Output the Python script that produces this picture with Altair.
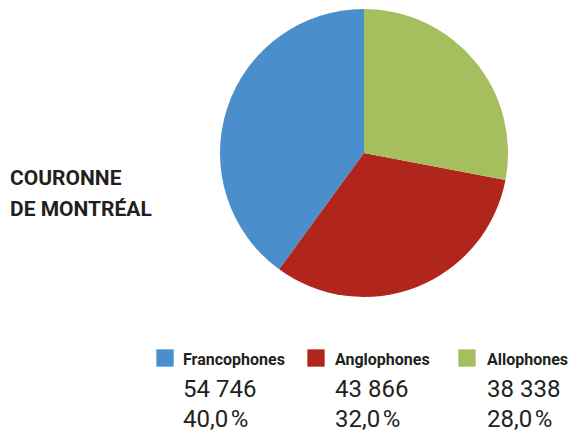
import altair as alt
import pandas as pd

categories = ["Francophones", "Anglophones", "Allophones"]
counts = [54746, 43866, 38338]
count_labels = ["54 746", "43 866", "38 338"]
pct_labels = ["40,0\u200a%", "32,0\u200a%", "28,0\u200a%"]
pie_order = ["Allophones", "Anglophones", "Francophones"]
colors = ["#4A8ECB", "#B0251C", "#A5BF5E"]
title_lines = ["COURONNE", "DE MONTRÉAL"]

df = pd.DataFrame({
    "cat": categories,
    "count": counts,
    "count_label": count_labels,
    "pct_label": pct_labels,
})
df["ord"] = [pie_order.index(c) for c in categories]
df["col"] = list(range(len(categories)))

title_df = pd.DataFrame({"line": title_lines, "row": list(range(len(title_lines)))})

FONT = "Roboto"
TXT = "#231F20"
color_scale = alt.Scale(domain=categories, range=colors)

base = alt.Chart(df)

pie = base.mark_arc(stroke=None, outerRadius=144).encode(
    theta=alt.Theta("count:Q", stack=True),
    color=alt.Color("cat:N", scale=color_scale, legend=None),
    order=alt.Order("ord:Q"),
    x=alt.value(356),
    y=alt.value(145),
)

sq_x = alt.X("col:Q", scale=alt.Scale(domain=[0, 2], range=[157, 459]), axis=None)
txt_x = alt.X("col:Q", scale=alt.Scale(domain=[0, 2], range=[175, 479]), axis=None)

squares = base.mark_square(size=300, opacity=1).encode(
    x=sq_x,
    y=alt.value(350),
    color=alt.Color("cat:N", scale=color_scale, legend=None),
)

labels = base.mark_text(align="left", baseline="alphabetic", font=FONT, fontSize=16,
                        fontWeight="bold", color=TXT).encode(
    x=txt_x, y=alt.value(357), text="cat:N")

nums = base.mark_text(align="left", baseline="alphabetic", font=FONT, fontSize=24,
                      color=TXT).encode(
    x=txt_x, y=alt.value(389), text="count_label:N")

pcts = base.mark_text(align="left", baseline="alphabetic", font=FONT, fontSize=24,
                      color=TXT).encode(
    x=txt_x, y=alt.value(419), text="pct_label:N")

title = alt.Chart(title_df).mark_text(align="left", baseline="alphabetic", font=FONT,
                                      fontSize=21, fontWeight="bold", color=TXT).encode(
    x=alt.value(2),
    y=alt.Y("row:Q", scale=alt.Scale(domain=[0, 1], range=[177, 208]), axis=None),
    text="line:N",
)

chart = alt.layer(pie, squares, labels, nums, pcts, title).resolve_scale(
    x="independent", y="independent"
).properties(
    width=561, height=440,
    autosize=alt.AutoSizeParams(type="none"),
    padding=0,
).configure_view(stroke=None)

chart.save("out.html", embed_options={"renderer": "svg", "actions": False})
